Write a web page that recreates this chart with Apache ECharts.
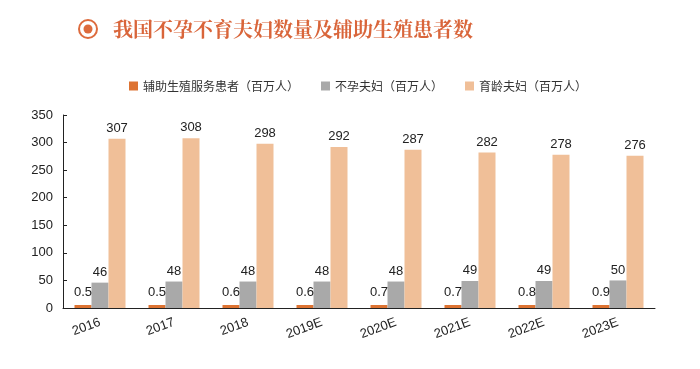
<!DOCTYPE html>
<html><head><meta charset="utf-8">
<script src="https://cdn.jsdelivr.net/npm/echarts@6/dist/echarts.min.js"></script>
<style>html,body{margin:0;padding:0;background:#fff}#c{width:700px;height:369px}</style>
</head><body><div id="c"></div>
<script>
const categories = ['2016','2017','2018','2019E','2020E','2021E','2022E','2023E'];
const artPatients = [0.5,0.5,0.6,0.6,0.7,0.7,0.8,0.9];
const infertileCouples = [46,48,48,48,48,49,49,50];
const fertileCouples = [307,308,298,292,287,282,278,276];
const seriesNames = ['辅助生殖服务患者（百万人）','不孕夫妇（百万人）','育龄夫妇（百万人）'];
const yTicks = {min:0,max:350,interval:50};

const chart = echarts.init(document.getElementById('c'));
const font = '"Microsoft YaHei","Noto Sans CJK SC",sans-serif';
const lbl = {show:true,position:'top',color:'#222',fontSize:13,fontFamily:'Arial,"Liberation Sans",sans-serif',distance:4};
chart.setOption({
  animation:false,
  graphic:[
    {type:'circle',shape:{cx:88,cy:29,r:9},style:{fill:'none',stroke:'#dd6b3d',lineWidth:2}},
    {type:'circle',shape:{cx:88,cy:29,r:4.5},style:{fill:'#dd6b3d'}},
    {type:'text',left:113,top:19,style:{text:'我国不孕不育夫妇数量及辅助生殖患者数',fill:'#d9653a',font:'bold 20px "Noto Serif CJK SC","Noto Sans CJK SC",serif'}}
  ],
  legend:{
    top:75,left:124,itemWidth:9,itemHeight:9,itemGap:22,icon:'rect',
    textStyle:{fontSize:12,color:'#333',fontFamily:font},
    data:seriesNames
  },
  grid:{left:63,right:45,top:115,bottom:61,containLabel:false},
  xAxis:{
    type:'category',data:categories,
    axisLine:{lineStyle:{color:'#222',width:1}},
    axisTick:{inside:true,length:4,lineStyle:{color:'#222'}},
    axisLabel:{rotate:20,color:'#222',fontSize:13,margin:14,fontFamily:'Arial,"Liberation Sans",sans-serif'}
  },
  yAxis:{
    type:'value',min:yTicks.min,max:yTicks.max,interval:yTicks.interval,
    splitLine:{show:false},
    axisLine:{show:true,lineStyle:{color:'#222'}},
    axisTick:{show:true,inside:true,length:4,lineStyle:{color:'#222'}},
    axisLabel:{color:'#222',fontSize:13,margin:10,fontFamily:'Arial,"Liberation Sans",sans-serif'}
  },
  series:[
    {name:seriesNames[0],type:'bar',data:artPatients,barWidth:17,barGap:'0%',barMinHeight:3,itemStyle:{color:'#dd7332'},label:Object.assign({},lbl,{distance:6})},
    {name:seriesNames[1],type:'bar',data:infertileCouples,barWidth:17,barGap:'0%',itemStyle:{color:'#a9a9a9'},label:lbl},
    {name:seriesNames[2],type:'bar',data:fertileCouples,barWidth:17,barGap:'0%',itemStyle:{color:'#f0bf98'},label:lbl}
  ]
});
</script></body></html>
